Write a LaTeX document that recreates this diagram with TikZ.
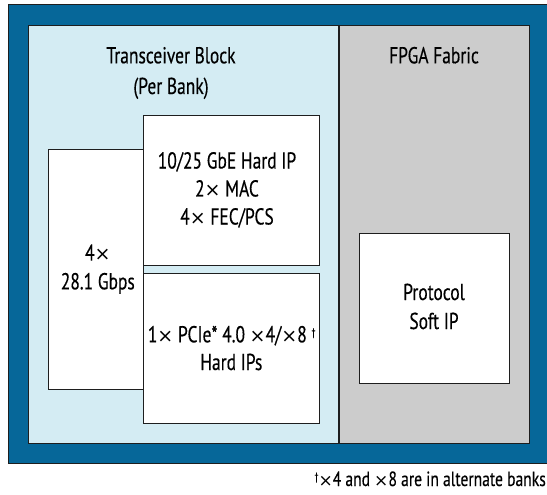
\documentclass[tikz,border=0pt]{standalone}
\usepackage{fontspec}
\setmainfont{PT Sans}[FakeStretch=0.76,FakeBold=0.3]
\newfontfamily\symf{DejaVu Sans}
\definecolor{outerblue}{RGB}{6,103,153}
\definecolor{lightblue}{RGB}{212,236,243}
\definecolor{fabricgray}{RGB}{204,204,204}
\definecolor{edge}{RGB}{30,30,30}
\newcommand{\dg}{\raisebox{0.55ex}{\fontsize{11}{11}\selectfont †}}
\newcommand{\tms}{{\symf\fontsize{19}{19}\selectfont ×}}
\begin{document}
\begin{tikzpicture}[x=1pt,y=-1pt,
  box/.style={draw=edge,line width=1pt,fill=white},
  lbl/.style={anchor=base,inner sep=0pt,text height=16pt,text depth=4pt,font=\fontsize{23}{28}\selectfont,text=black}]
\useasboundingbox (0,0) rectangle (547,495);
\fill[white] (0,0) rectangle (547,495);
% outer frame
\fill[outerblue] (8,5) rectangle (547,463);
\draw[edge,line width=1pt] (547,5) -- (8,5) -- (8,463) -- (547,463);
% regions
\fill[lightblue] (28,26) rectangle (339,443);
\fill[fabricgray] (339,26) rectangle (529.5,443);
\draw[edge,line width=1pt] (28,26) rectangle (529.5,443);
\draw[edge,line width=1.3pt] (339,26) -- (339,443);
% boxes
\draw[box] (48,149.3) rectangle (143.4,389);
\draw[box] (143.4,115.3) rectangle (319.5,265.3);
\draw[box] (143.4,273.3) rectangle (319.5,423.3);
\draw[box] (359.4,233.3) rectangle (509.8,383.3);
% labels
\node[lbl] (t1) at (171,63.3) {Transceiver Block};
\node[lbl] (t2) at (171,94) {(Per Bank)};
\node[lbl] (f1) at (434,63.3) {FPGA Fabric};
\node[lbl] (g1) at (227,168.5) {10/25 GbE Hard IP};
\node[lbl] (g2) at (227,196.5) {2\tms{} MAC};
\node[lbl] (g3) at (227,224.5) {4\tms{} FEC/PCS};
\node[lbl] (s1) at (97.8,260.7) {4\tms};
\node[lbl] (s2) at (97.8,289.3) {28.1 Gbps};
\node[lbl] (p1) at (231.7,342.3) {1\tms{} PCIe* 4.0 \tms4/\tms8 \dg};
\node[lbl] (p2) at (231.3,370) {Hard IPs};
\node[lbl] (r1) at (434,300) {Protocol};
\node[lbl] (r2) at (434,329) {Soft IP};
\node[lbl,anchor=base east,font=\fontsize{20.5}{24}\selectfont] (fn) at (546,486) {\dg{\symf\fontsize{17}{17}\selectfont ×}4 and {\symf\fontsize{17}{17}\selectfont ×}8 are in alternate banks};
\end{tikzpicture}
\end{document}
